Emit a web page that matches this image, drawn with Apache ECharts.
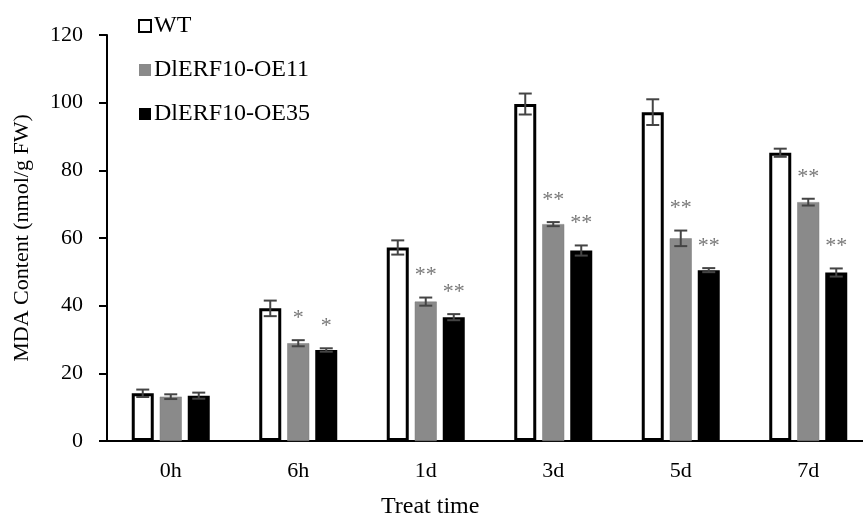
<!DOCTYPE html>
<html>
<head>
<meta charset="utf-8">
<script src="https://cdn.jsdelivr.net/npm/echarts@6/dist/echarts.min.js"></script>
<style>html,body{margin:0;padding:0;background:#fff;}#c{width:863px;height:514px;}</style>
</head>
<body>
<div id="c"></div>
<script>
var categories = ['0h', '6h', '1d', '3d', '5d', '7d'];
var seriesNames = ['WT', 'DlERF10-OE11', 'DlERF10-OE35'];
var wt = [14.1, 39.2, 57.2, 99.6, 97.2, 85.2];
var wtErr = [1.1, 2.3, 2.1, 3.1, 3.8, 1.2];
var oe11 = [13.1, 28.9, 41.2, 64.1, 59.9, 70.6];
var oe11Err = [0.7, 0.9, 1.2, 0.6, 2.3, 1.0];
var oe35 = [13.4, 26.9, 36.6, 56.3, 50.5, 49.8];
var oe35Err = [0.9, 0.5, 0.9, 1.5, 0.6, 1.2];
var wtSig = ['', '', '', '', '', ''];
var oe11Sig = ['', '*', '**', '**', '**', '**'];
var oe35Sig = ['', '*', '**', '**', '**', '**'];
var yTicks = [0, 20, 40, 60, 80, 100, 120];

var FONT = '"Liberation Serif", "Times New Roman", serif';
var BAR_W = 22, BAR_GAP = 6;
var values = [wt, oe11, oe35];
var errs = [wtErr, oe11Err, oe35Err];
var sigs = [wtSig, oe11Sig, oe35Sig];
var styles = [
  {color: '#ffffff', borderColor: '#000000', borderWidth: 3},
  {color: '#8a8a8a', borderColor: '#7a7a7a', borderWidth: 0.5},
  {color: '#000000', borderColor: '#000000', borderWidth: 0}
];

var series = [];
seriesNames.forEach(function (name, i) {
  series.push({
    name: name, type: 'bar', barWidth: BAR_W, barGap: (BAR_GAP / BAR_W * 100) + '%',
    itemStyle: styles[i], data: values[i], z: 2
  });
});
seriesNames.forEach(function (name, i) {
  var data = categories.map(function (c, k) { return [k, values[i][k], errs[i][k], sigs[i][k]]; });
  series.push({
    type: 'custom', z: 5, silent: true,
    data: data,
    renderItem: function (params, api) {
      var k = api.value(0), v = api.value(1), e = api.value(2);
      var sig = data[params.dataIndex][3];
      var off = (i - 1) * (BAR_W + BAR_GAP);
      var top = api.coord([k, v + e]);
      var bot = api.coord([k, v - e]);
      var x = top[0] + off;
      var cap = 6.5;
      var ls = {stroke: '#444444', lineWidth: 2};
      var children = [
        {type: 'line', shape: {x1: x, y1: top[1], x2: x, y2: bot[1]}, style: ls},
        {type: 'line', shape: {x1: x - cap, y1: top[1], x2: x + cap, y2: top[1]}, style: ls},
        {type: 'line', shape: {x1: x - cap, y1: bot[1], x2: x + cap, y2: bot[1]}, style: ls}
      ];
      if (sig) {
        children.push({type: 'text', style: {text: sig, x: x, y: top[1] - 22, align: 'center', verticalAlign: 'middle',
          font: '22px ' + FONT, fill: '#777777'}});
      }
      return {type: 'group', children: children};
    }
  });
});

var chart = echarts.init(document.getElementById('c'));
chart.setOption({
  animation: false,
  backgroundColor: '#ffffff',
  grid: {left: 107, top: 35, width: 765, height: 406, containLabel: false, outerBoundsMode: 'none'},
  legend: {
    orient: 'vertical', left: 133, top: 9, itemWidth: 12, itemHeight: 12, itemGap: 20,
    data: seriesNames.map(function (n, i) {
      return {name: n, icon: 'rect', itemStyle: i === 0 ? {borderWidth: 2, borderColor: '#000'} : {borderWidth: 0}};
    }),
    textStyle: {fontFamily: FONT, fontSize: 24, color: '#000', padding: [0, 0, 0, -2]},
    selectedMode: false
  },
  title: {
    text: 'Treat time', left: 376, top: 490,
    textStyle: {fontFamily: FONT, fontSize: 24, fontWeight: 'normal', color: '#000'}
  },
  xAxis: {
    type: 'category', data: categories,
    axisLine: {lineStyle: {color: '#000', width: 2}},
    axisTick: {show: false},
    axisLabel: {fontFamily: FONT, fontSize: 22, color: '#000', margin: 19}
  },
  yAxis: {
    type: 'value', min: 0, max: 120, interval: 20,
    name: 'MDA Content (nmol/g FW)', nameLocation: 'middle', nameGap: 74,
    nameTextStyle: {fontFamily: FONT, fontSize: 22, color: '#000'},
    axisLine: {show: true, lineStyle: {color: '#000', width: 2}},
    axisTick: {show: true, length: 8, lineStyle: {color: '#000', width: 2}},
    splitLine: {show: false},
    axisLabel: {fontFamily: FONT, fontSize: 22, color: '#000', margin: 24,
      formatter: function (v) { return yTicks.indexOf(v) >= 0 ? String(v) : ''; }}
  },
  series: series
});
</script>
</body>
</html>
